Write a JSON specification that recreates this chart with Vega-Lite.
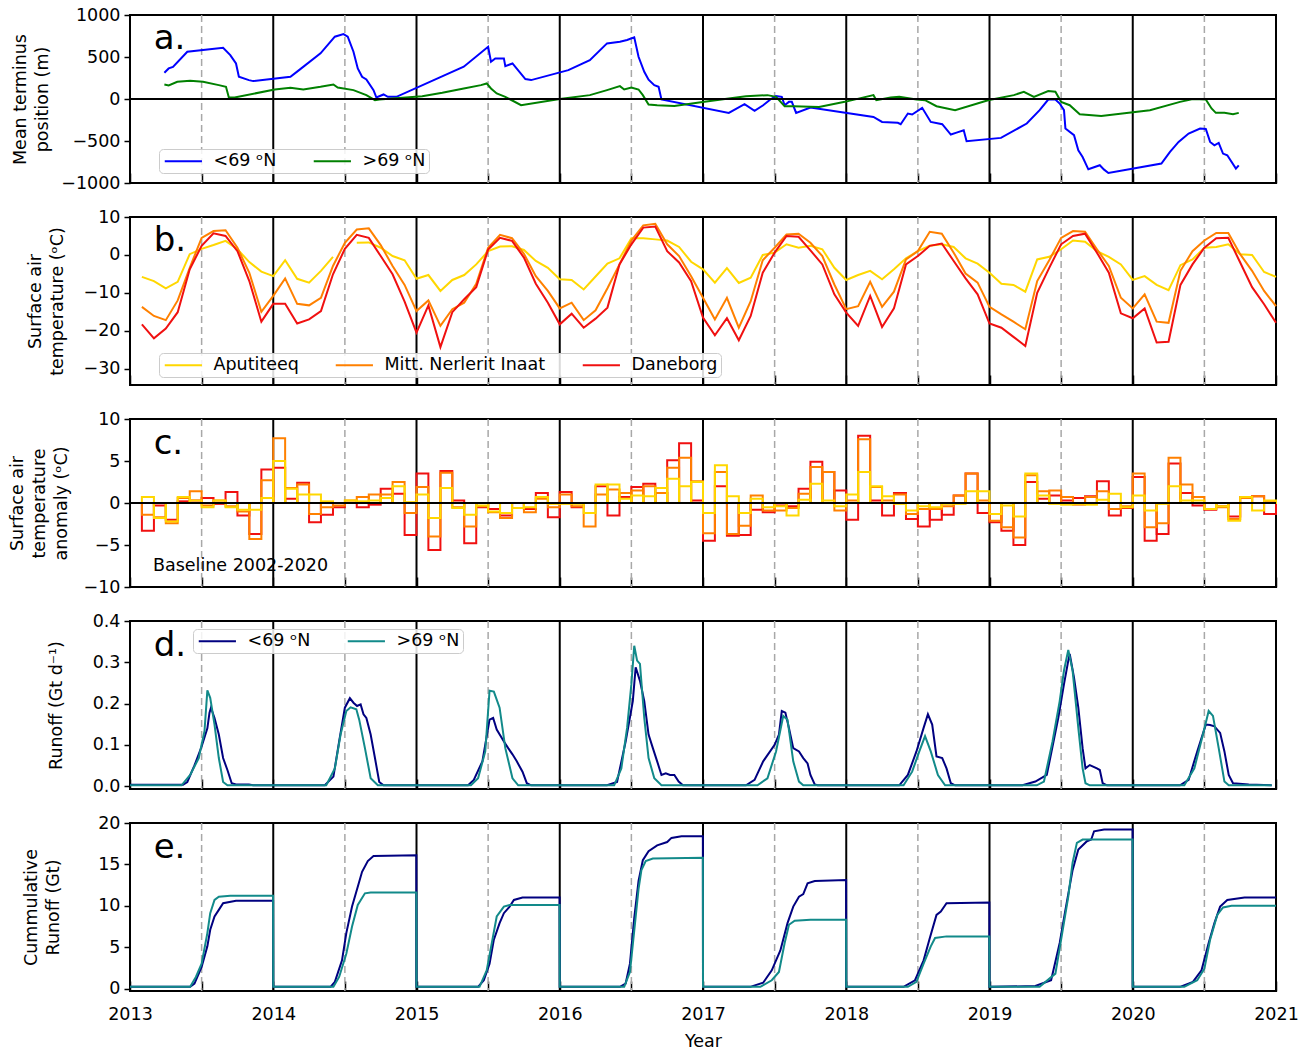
{
"$schema": "https://vega.github.io/schema/vega-lite/v6.json",
"background": "white",
"padding": {"left": 7, "top": 5, "right": 10, "bottom": 5},
"bounds": "flush",
"spacing": 34,
"config": {
  "font": "DejaVu Sans",
  "view": {"stroke": "black", "strokeWidth": 2},
  "axis": {"labelFont": "DejaVu Sans", "titleFont": "DejaVu Sans", "labelFontSize": 17.5, "titleFontSize": 17.5, "titleFontWeight": "normal", "labelColor": "black", "titleColor": "black", "domain": false, "grid": false, "tickColor": "black", "tickWidth": 1.5, "labelFlush": false, "labelOverlap": false},
  "axisY": {"tickSize": 6, "labelPadding": 4, "titlePadding": 8, "titleLineHeight": 22},
  "axisX": {"tickSize": -10, "labelPadding": 24, "titlePadding": 10},
  "legend": {"labelFont": "DejaVu Sans", "labelFontSize": 17.5, "labelColor": "black", "labelLimit": 400, "symbolType": "M-1,0H5.2", "symbolSize": 144, "symbolStrokeWidth": 2, "labelOffset": 34, "columnPadding": 32, "strokeColor": "#cccccc", "fillColor": "rgba(255,255,255,0.85)", "cornerRadius": 4, "padding": 3},
  "line": {"strokeWidth": 2}
},
"resolve": {"scale": {"color": "independent", "y": "independent", "x": "independent"}, "legend": {"color": "independent"}, "axis": {"x": "independent", "y": "independent"}},
"datasets": {
  "grid": [
    {"t": 2013.5, "k": "half"}, {"t": 2014.5, "k": "half"}, {"t": 2015.5, "k": "half"}, {"t": 2016.5, "k": "half"},
    {"t": 2017.5, "k": "half"}, {"t": 2018.5, "k": "half"}, {"t": 2019.5, "k": "half"}, {"t": 2020.5, "k": "half"},
    {"t": 2014, "k": "year"}, {"t": 2015, "k": "year"}, {"t": 2016, "k": "year"}, {"t": 2017, "k": "year"},
    {"t": 2018, "k": "year"}, {"t": 2019, "k": "year"}, {"t": 2020, "k": "year"}
  ],
  "zero": [{"y": 0}],
  "letters": [
    {"p": "a", "label": "a."}, {"p": "b", "label": "b."}, {"p": "c", "label": "c."}, {"p": "d", "label": "d."}, {"p": "e", "label": "e."},
    {"p": "base", "label": "Baseline 2002-2020"}
  ],
  "term": [
    {"t":2013.24,"s":"lo","v":312},{"t":2013.27,"s":"lo","v":364},{"t":2013.30,"s":"lo","v":383},{"t":2013.40,"s":"lo","v":563},{"t":2013.65,"s":"lo","v":610},{"t":2013.70,"s":"lo","v":523},{"t":2013.74,"s":"lo","v":423},{"t":2013.76,"s":"lo","v":264},{"t":2013.83,"s":"lo","v":225},{"t":2013.86,"s":"lo","v":213},
    {"t":2014.12,"s":"lo","v":264},{"t":2014.18,"s":"lo","v":344},{"t":2014.33,"s":"lo","v":543},{"t":2014.43,"s":"lo","v":742},{"t":2014.49,"s":"lo","v":773},{"t":2014.52,"s":"lo","v":742},{"t":2014.56,"s":"lo","v":563},{"t":2014.59,"s":"lo","v":364},{"t":2014.62,"s":"lo","v":264},{"t":2014.65,"s":"lo","v":233},{"t":2014.70,"s":"lo","v":106},{"t":2014.72,"s":"lo","v":18},{"t":2014.77,"s":"lo","v":54},{"t":2014.80,"s":"lo","v":26},{"t":2014.86,"s":"lo","v":26},
    {"t":2015.33,"s":"lo","v":384},{"t":2015.50,"s":"lo","v":622},{"t":2015.52,"s":"lo","v":443},{"t":2015.55,"s":"lo","v":483},{"t":2015.61,"s":"lo","v":483},{"t":2015.62,"s":"lo","v":392},{"t":2015.67,"s":"lo","v":423},{"t":2015.76,"s":"lo","v":237},{"t":2015.80,"s":"lo","v":225},
    {"t":2016.06,"s":"lo","v":344},{"t":2016.21,"s":"lo","v":463},{"t":2016.33,"s":"lo","v":662},{"t":2016.42,"s":"lo","v":682},{"t":2016.47,"s":"lo","v":702},{"t":2016.52,"s":"lo","v":734},{"t":2016.55,"s":"lo","v":503},{"t":2016.59,"s":"lo","v":324},{"t":2016.62,"s":"lo","v":230},{"t":2016.66,"s":"lo","v":165},{"t":2016.69,"s":"lo","v":145},{"t":2016.71,"s":"lo","v":-6},
    {"t":2017.18,"s":"lo","v":-165},{"t":2017.29,"s":"lo","v":-62},{"t":2017.36,"s":"lo","v":-141},{"t":2017.42,"s":"lo","v":-74},{"t":2017.47,"s":"lo","v":-6},{"t":2017.51,"s":"lo","v":34},{"t":2017.55,"s":"lo","v":26},{"t":2017.57,"s":"lo","v":-74},{"t":2017.60,"s":"lo","v":-34},{"t":2017.62,"s":"lo","v":-34},{"t":2017.65,"s":"lo","v":-165},{"t":2017.75,"s":"lo","v":-101},
    {"t":2018.19,"s":"lo","v":-213},{"t":2018.25,"s":"lo","v":-273},{"t":2018.36,"s":"lo","v":-284},{"t":2018.38,"s":"lo","v":-300},{"t":2018.43,"s":"lo","v":-173},{"t":2018.46,"s":"lo","v":-185},{"t":2018.53,"s":"lo","v":-105},{"t":2018.59,"s":"lo","v":-273},{"t":2018.67,"s":"lo","v":-300},{"t":2018.73,"s":"lo","v":-423},{"t":2018.77,"s":"lo","v":-400},{"t":2018.82,"s":"lo","v":-372},{"t":2018.84,"s":"lo","v":-503},
    {"t":2019.08,"s":"lo","v":-463},{"t":2019.26,"s":"lo","v":-292},{"t":2019.35,"s":"lo","v":-133},{"t":2019.41,"s":"lo","v":-6},{"t":2019.46,"s":"lo","v":-6},{"t":2019.49,"s":"lo","v":-54},{"t":2019.52,"s":"lo","v":-133},{"t":2019.53,"s":"lo","v":-352},{"t":2019.59,"s":"lo","v":-431},{"t":2019.62,"s":"lo","v":-610},{"t":2019.65,"s":"lo","v":-690},{"t":2019.69,"s":"lo","v":-837},{"t":2019.77,"s":"lo","v":-789},{"t":2019.80,"s":"lo","v":-841},{"t":2019.83,"s":"lo","v":-881},
    {"t":2020.20,"s":"lo","v":-769},{"t":2020.26,"s":"lo","v":-630},{"t":2020.32,"s":"lo","v":-511},{"t":2020.39,"s":"lo","v":-411},{"t":2020.47,"s":"lo","v":-352},{"t":2020.51,"s":"lo","v":-356},{"t":2020.54,"s":"lo","v":-511},{"t":2020.57,"s":"lo","v":-551},{"t":2020.60,"s":"lo","v":-523},{"t":2020.63,"s":"lo","v":-650},{"t":2020.66,"s":"lo","v":-670},{"t":2020.72,"s":"lo","v":-829},{"t":2020.74,"s":"lo","v":-789},
    {"t":2013.24,"s":"hi","v":173},{"t":2013.27,"s":"hi","v":161},{"t":2013.33,"s":"hi","v":205},{"t":2013.42,"s":"hi","v":217},{"t":2013.51,"s":"hi","v":205},{"t":2013.62,"s":"hi","v":165},{"t":2013.67,"s":"hi","v":145},{"t":2013.69,"s":"hi","v":18},{"t":2013.73,"s":"hi","v":18},
    {"t":2014.01,"s":"hi","v":113},{"t":2014.12,"s":"hi","v":133},{"t":2014.21,"s":"hi","v":113},{"t":2014.33,"s":"hi","v":145},{"t":2014.42,"s":"hi","v":173},{"t":2014.45,"s":"hi","v":137},{"t":2014.56,"s":"hi","v":106},{"t":2014.65,"s":"hi","v":46},{"t":2014.71,"s":"hi","v":-14},{"t":2014.74,"s":"hi","v":-6},
    {"t":2015.04,"s":"hi","v":34},{"t":2015.18,"s":"hi","v":74},{"t":2015.33,"s":"hi","v":125},{"t":2015.45,"s":"hi","v":165},{"t":2015.49,"s":"hi","v":185},{"t":2015.52,"s":"hi","v":125},{"t":2015.56,"s":"hi","v":66},{"t":2015.62,"s":"hi","v":26},{"t":2015.73,"s":"hi","v":-74},
    {"t":2016.00,"s":"hi","v":0},{"t":2016.21,"s":"hi","v":46},{"t":2016.33,"s":"hi","v":106},{"t":2016.42,"s":"hi","v":153},{"t":2016.45,"s":"hi","v":113},{"t":2016.50,"s":"hi","v":137},{"t":2016.55,"s":"hi","v":113},{"t":2016.58,"s":"hi","v":46},{"t":2016.62,"s":"hi","v":-66},{"t":2016.68,"s":"hi","v":-74},{"t":2016.80,"s":"hi","v":-82},
    {"t":2017.01,"s":"hi","v":-34},{"t":2017.18,"s":"hi","v":6},{"t":2017.30,"s":"hi","v":34},{"t":2017.45,"s":"hi","v":46},{"t":2017.51,"s":"hi","v":26},{"t":2017.57,"s":"hi","v":-86},{"t":2017.63,"s":"hi","v":-86},{"t":2017.81,"s":"hi","v":-94},{"t":2017.99,"s":"hi","v":-34},
    {"t":2018.19,"s":"hi","v":46},{"t":2018.21,"s":"hi","v":-14},{"t":2018.31,"s":"hi","v":18},{"t":2018.37,"s":"hi","v":26},{"t":2018.49,"s":"hi","v":-6},{"t":2018.55,"s":"hi","v":-14},{"t":2018.63,"s":"hi","v":-86},{"t":2018.76,"s":"hi","v":-133},{"t":2018.99,"s":"hi","v":-14},
    {"t":2019.17,"s":"hi","v":46},{"t":2019.24,"s":"hi","v":86},{"t":2019.31,"s":"hi","v":26},{"t":2019.41,"s":"hi","v":94},{"t":2019.46,"s":"hi","v":86},{"t":2019.50,"s":"hi","v":-34},{"t":2019.56,"s":"hi","v":-74},{"t":2019.63,"s":"hi","v":-181},{"t":2019.78,"s":"hi","v":-201},
    {"t":2020.12,"s":"hi","v":-133},{"t":2020.33,"s":"hi","v":-34},{"t":2020.42,"s":"hi","v":0},{"t":2020.51,"s":"hi","v":-6},{"t":2020.55,"s":"hi","v":-113},{"t":2020.58,"s":"hi","v":-165},{"t":2020.64,"s":"hi","v":-165},{"t":2020.70,"s":"hi","v":-181},{"t":2020.74,"s":"hi","v":-165}
  ],
  "temp": [
    {"t":2013.083,"s":"A","v":-5.8},{"t":2013.167,"s":"A","v":-6.9},{"t":2013.25,"s":"A","v":-8.8},{"t":2013.333,"s":"A","v":-7.1},{"t":2013.417,"s":"A","v":0.2},{"t":2013.5,"s":"A","v":1.6},{"t":2013.583,"s":"A","v":2.6},{"t":2013.667,"s":"A","v":3.7},{"t":2013.75,"s":"A","v":1.5},{"t":2013.833,"s":"A","v":-1.9},{"t":2013.917,"s":"A","v":-4.4},{"t":2014,"s":"A","v":-5.6},
    {"t":2014.083,"s":"A","v":-1.4},{"t":2014.167,"s":"A","v":-6.3},{"t":2014.25,"s":"A","v":-7.3},{"t":2014.333,"s":"A","v":-4.2},{"t":2014.417,"s":"A","v":-0.5},{"t":2014.5,"s":"A","v":null},{"t":2014.583,"s":"A","v":3.2},{"t":2014.667,"s":"A","v":3.3},{"t":2014.75,"s":"A","v":1.9},{"t":2014.833,"s":"A","v":-0.3},{"t":2014.917,"s":"A","v":-1.4},{"t":2015,"s":"A","v":-6.3},
    {"t":2015.083,"s":"A","v":-5.3},{"t":2015.167,"s":"A","v":-9.5},{"t":2015.25,"s":"A","v":-6.6},{"t":2015.333,"s":"A","v":-5.3},{"t":2015.417,"s":"A","v":-2.5},{"t":2015.5,"s":"A","v":1.0},{"t":2015.583,"s":"A","v":2.2},{"t":2015.667,"s":"A","v":2.3},{"t":2015.75,"s":"A","v":1.3},{"t":2015.833,"s":"A","v":-1.6},{"t":2015.917,"s":"A","v":-3.4},{"t":2016,"s":"A","v":-6.4},
    {"t":2016.083,"s":"A","v":-6.6},{"t":2016.167,"s":"A","v":-9.1},{"t":2016.25,"s":"A","v":-5.7},{"t":2016.333,"s":"A","v":-2.3},{"t":2016.417,"s":"A","v":-0.9},{"t":2016.5,"s":"A","v":4.4},{"t":2016.583,"s":"A","v":4.4},{"t":2016.667,"s":"A","v":4.1},{"t":2016.75,"s":"A","v":3.8},{"t":2016.833,"s":"A","v":2.1},{"t":2016.917,"s":"A","v":-1.8},{"t":2017,"s":"A","v":-3.8},
    {"t":2017.083,"s":"A","v":-7.3},{"t":2017.167,"s":"A","v":-3.5},{"t":2017.25,"s":"A","v":-7.4},{"t":2017.333,"s":"A","v":-6.0},{"t":2017.417,"s":"A","v":0.0},{"t":2017.5,"s":"A","v":0.6},{"t":2017.583,"s":"A","v":2.8},{"t":2017.667,"s":"A","v":1.9},{"t":2017.75,"s":"A","v":2.4},{"t":2017.833,"s":"A","v":1.5},{"t":2017.917,"s":"A","v":-3.4},{"t":2018,"s":"A","v":-6.6},
    {"t":2018.083,"s":"A","v":-5.3},{"t":2018.167,"s":"A","v":-4.2},{"t":2018.25,"s":"A","v":-6.4},{"t":2018.333,"s":"A","v":-3.8},{"t":2018.417,"s":"A","v":-0.9},{"t":2018.5,"s":"A","v":1.0},{"t":2018.583,"s":"A","v":2.4},{"t":2018.667,"s":"A","v":2.8},{"t":2018.75,"s":"A","v":2.1},{"t":2018.833,"s":"A","v":-0.9},{"t":2018.917,"s":"A","v":-2.3},{"t":2019,"s":"A","v":-4.7},
    {"t":2019.083,"s":"A","v":-7.6},{"t":2019.167,"s":"A","v":-7.9},{"t":2019.25,"s":"A","v":-9.7},{"t":2019.333,"s":"A","v":-1.2},{"t":2019.417,"s":"A","v":-0.5},{"t":2019.5,"s":"A","v":1.5},{"t":2019.583,"s":"A","v":3.8},{"t":2019.667,"s":"A","v":3.5},{"t":2019.75,"s":"A","v":1.0},{"t":2019.833,"s":"A","v":-0.5},{"t":2019.917,"s":"A","v":-2.5},{"t":2020,"s":"A","v":-6.6},
    {"t":2020.083,"s":"A","v":-5.6},{"t":2020.167,"s":"A","v":-7.9},{"t":2020.25,"s":"A","v":-9.3},{"t":2020.333,"s":"A","v":-2.7},{"t":2020.417,"s":"A","v":-1.2},{"t":2020.5,"s":"A","v":1.9},{"t":2020.583,"s":"A","v":2.1},{"t":2020.667,"s":"A","v":2.8},{"t":2020.75,"s":"A","v":0.2},{"t":2020.833,"s":"A","v":0.0},{"t":2020.917,"s":"A","v":-4.5},{"t":2021,"s":"A","v":-5.8},
    {"t":2013.083,"s":"M","v":-13.7},{"t":2013.167,"s":"M","v":-16.1},{"t":2013.25,"s":"M","v":-17.2},{"t":2013.333,"s":"M","v":-12.0},{"t":2013.417,"s":"M","v":-3.4},{"t":2013.5,"s":"M","v":4.5},{"t":2013.583,"s":"M","v":6.3},{"t":2013.667,"s":"M","v":6.5},{"t":2013.75,"s":"M","v":1.9},{"t":2013.833,"s":"M","v":-4.7},{"t":2013.917,"s":"M","v":-15.0},{"t":2014,"s":"M","v":-10.8},
    {"t":2014.083,"s":"M","v":-6.2},{"t":2014.167,"s":"M","v":-12.9},{"t":2014.25,"s":"M","v":-13.3},{"t":2014.333,"s":"M","v":-11.3},{"t":2014.417,"s":"M","v":-2.9},{"t":2014.5,"s":"M","v":3.2},{"t":2014.583,"s":"M","v":6.7},{"t":2014.667,"s":"M","v":7.0},{"t":2014.75,"s":"M","v":2.6},{"t":2014.833,"s":"M","v":-2.9},{"t":2014.917,"s":"M","v":-7.9},{"t":2015,"s":"M","v":-14.8},
    {"t":2015.083,"s":"M","v":-12.0},{"t":2015.167,"s":"M","v":-18.7},{"t":2015.25,"s":"M","v":-14.3},{"t":2015.333,"s":"M","v":-12.6},{"t":2015.417,"s":"M","v":-7.6},{"t":2015.5,"s":"M","v":1.9},{"t":2015.583,"s":"M","v":5.3},{"t":2015.667,"s":"M","v":4.4},{"t":2015.75,"s":"M","v":0.3},{"t":2015.833,"s":"M","v":-5.6},{"t":2015.917,"s":"M","v":-9.5},{"t":2016,"s":"M","v":-14.1},
    {"t":2016.083,"s":"M","v":-12.6},{"t":2016.167,"s":"M","v":-17.2},{"t":2016.25,"s":"M","v":-14.6},{"t":2016.333,"s":"M","v":-8.8},{"t":2016.417,"s":"M","v":-2.5},{"t":2016.5,"s":"M","v":3.8},{"t":2016.583,"s":"M","v":7.8},{"t":2016.667,"s":"M","v":8.2},{"t":2016.75,"s":"M","v":2.8},{"t":2016.833,"s":"M","v":-0.3},{"t":2016.917,"s":"M","v":-5.6},{"t":2017,"s":"M","v":-11.3},
    {"t":2017.083,"s":"M","v":-17.0},{"t":2017.167,"s":"M","v":-11.3},{"t":2017.25,"s":"M","v":-19.2},{"t":2017.333,"s":"M","v":-12.2},{"t":2017.417,"s":"M","v":-1.4},{"t":2017.5,"s":"M","v":1.9},{"t":2017.583,"s":"M","v":5.4},{"t":2017.667,"s":"M","v":5.6},{"t":2017.75,"s":"M","v":3.2},{"t":2017.833,"s":"M","v":-0.3},{"t":2017.917,"s":"M","v":-7.8},{"t":2018,"s":"M","v":-14.3},
    {"t":2018.083,"s":"M","v":-13.5},{"t":2018.167,"s":"M","v":-7.1},{"t":2018.25,"s":"M","v":-13.7},{"t":2018.333,"s":"M","v":-9.7},{"t":2018.417,"s":"M","v":-1.2},{"t":2018.5,"s":"M","v":1.0},{"t":2018.583,"s":"M","v":6.1},{"t":2018.667,"s":"M","v":5.6},{"t":2018.75,"s":"M","v":0.6},{"t":2018.833,"s":"M","v":-4.9},{"t":2018.917,"s":"M","v":-7.3},{"t":2019,"s":"M","v":-13.7},
    {"t":2019.083,"s":"M","v":-15.7},{"t":2019.167,"s":"M","v":-17.6},{"t":2019.25,"s":"M","v":-19.6},{"t":2019.333,"s":"M","v":-6.9},{"t":2019.417,"s":"M","v":-1.4},{"t":2019.5,"s":"M","v":4.5},{"t":2019.583,"s":"M","v":6.3},{"t":2019.667,"s":"M","v":6.1},{"t":2019.75,"s":"M","v":1.5},{"t":2019.833,"s":"M","v":-2.9},{"t":2019.917,"s":"M","v":-11.3},{"t":2020,"s":"M","v":-14.1},
    {"t":2020.083,"s":"M","v":-10.4},{"t":2020.167,"s":"M","v":-17.6},{"t":2020.25,"s":"M","v":-17.9},{"t":2020.333,"s":"M","v":-4.2},{"t":2020.417,"s":"M","v":1.0},{"t":2020.5,"s":"M","v":3.8},{"t":2020.583,"s":"M","v":5.8},{"t":2020.667,"s":"M","v":5.8},{"t":2020.75,"s":"M","v":0.2},{"t":2020.833,"s":"M","v":-4.2},{"t":2020.917,"s":"M","v":-9.5},{"t":2021,"s":"M","v":-13.5},
    {"t":2013.083,"s":"D","v":-18.3},{"t":2013.167,"s":"D","v":-22.0},{"t":2013.25,"s":"D","v":-19.4},{"t":2013.333,"s":"D","v":-15.1},{"t":2013.417,"s":"D","v":-3.8},{"t":2013.5,"s":"D","v":2.4},{"t":2013.583,"s":"D","v":5.7},{"t":2013.667,"s":"D","v":5.0},{"t":2013.75,"s":"D","v":1.0},{"t":2013.833,"s":"D","v":-6.9},{"t":2013.917,"s":"D","v":-17.6},{"t":2014,"s":"D","v":-12.9},
    {"t":2014.083,"s":"D","v":-12.9},{"t":2014.167,"s":"D","v":-18.1},{"t":2014.25,"s":"D","v":-17.0},{"t":2014.333,"s":"D","v":-14.8},{"t":2014.417,"s":"D","v":-5.1},{"t":2014.5,"s":"D","v":1.6},{"t":2014.583,"s":"D","v":5.3},{"t":2014.667,"s":"D","v":4.5},{"t":2014.75,"s":"D","v":-0.3},{"t":2014.833,"s":"D","v":-5.1},{"t":2014.917,"s":"D","v":-12.3},{"t":2015,"s":"D","v":-20.5},
    {"t":2015.083,"s":"D","v":-13.3},{"t":2015.167,"s":"D","v":-24.3},{"t":2015.25,"s":"D","v":-15.1},{"t":2015.333,"s":"D","v":-11.7},{"t":2015.417,"s":"D","v":-8.5},{"t":2015.5,"s":"D","v":1.4},{"t":2015.583,"s":"D","v":4.5},{"t":2015.667,"s":"D","v":3.7},{"t":2015.75,"s":"D","v":-0.7},{"t":2015.833,"s":"D","v":-7.6},{"t":2015.917,"s":"D","v":-12.6},{"t":2016,"s":"D","v":-18.3},
    {"t":2016.083,"s":"D","v":-15.5},{"t":2016.167,"s":"D","v":-19.2},{"t":2016.25,"s":"D","v":-16.8},{"t":2016.333,"s":"D","v":-13.9},{"t":2016.417,"s":"D","v":-2.5},{"t":2016.5,"s":"D","v":2.8},{"t":2016.583,"s":"D","v":7.2},{"t":2016.667,"s":"D","v":7.5},{"t":2016.75,"s":"D","v":1.0},{"t":2016.833,"s":"D","v":-2.0},{"t":2016.917,"s":"D","v":-6.9},{"t":2017,"s":"D","v":-16.5},
    {"t":2017.083,"s":"D","v":-21.2},{"t":2017.167,"s":"D","v":-16.7},{"t":2017.25,"s":"D","v":-22.5},{"t":2017.333,"s":"D","v":-16.1},{"t":2017.417,"s":"D","v":-4.7},{"t":2017.5,"s":"D","v":0.6},{"t":2017.583,"s":"D","v":5.0},{"t":2017.667,"s":"D","v":4.8},{"t":2017.75,"s":"D","v":1.2},{"t":2017.833,"s":"D","v":-2.5},{"t":2017.917,"s":"D","v":-10.4},{"t":2018,"s":"D","v":-15.2},
    {"t":2018.083,"s":"D","v":-18.7},{"t":2018.167,"s":"D","v":-10.8},{"t":2018.25,"s":"D","v":-19.0},{"t":2018.333,"s":"D","v":-14.1},{"t":2018.417,"s":"D","v":-2.5},{"t":2018.5,"s":"D","v":-0.3},{"t":2018.583,"s":"D","v":2.4},{"t":2018.667,"s":"D","v":3.0},{"t":2018.75,"s":"D","v":-1.6},{"t":2018.833,"s":"D","v":-6.2},{"t":2018.917,"s":"D","v":-10.4},{"t":2019,"s":"D","v":-18.1},
    {"t":2019.083,"s":"D","v":-19.2},{"t":2019.167,"s":"D","v":-21.6},{"t":2019.25,"s":"D","v":-24.0},{"t":2019.333,"s":"D","v":-10.0},{"t":2019.417,"s":"D","v":-3.4},{"t":2019.5,"s":"D","v":2.8},{"t":2019.583,"s":"D","v":5.0},{"t":2019.667,"s":"D","v":5.6},{"t":2019.75,"s":"D","v":0.6},{"t":2019.833,"s":"D","v":-4.7},{"t":2019.917,"s":"D","v":-15.4},{"t":2020,"s":"D","v":-16.7},
    {"t":2020.083,"s":"D","v":-14.1},{"t":2020.167,"s":"D","v":-23.1},{"t":2020.25,"s":"D","v":-22.9},{"t":2020.333,"s":"D","v":-7.9},{"t":2020.417,"s":"D","v":-2.5},{"t":2020.5,"s":"D","v":1.9},{"t":2020.583,"s":"D","v":4.4},{"t":2020.667,"s":"D","v":4.5},{"t":2020.75,"s":"D","v":-2.0},{"t":2020.833,"s":"D","v":-8.5},{"t":2020.917,"s":"D","v":-13.0},{"t":2021,"s":"D","v":-17.9}
  ],
  "anom": [
    {"t0":2013.083,"t1":2013.167,"s":"D","v":-3.3},{"t0":2013.167,"t1":2013.25,"s":"D","v":-0.3},{"t0":2013.25,"t1":2013.333,"s":"D","v":-2.0},{"t0":2013.333,"t1":2013.417,"s":"D","v":0.2},{"t0":2013.417,"t1":2013.5,"s":"D","v":0.3},{"t0":2013.5,"t1":2013.583,"s":"D","v":0.6},{"t0":2013.583,"t1":2013.667,"s":"D","v":-0.1},{"t0":2013.667,"t1":2013.75,"s":"D","v":1.3},{"t0":2013.75,"t1":2013.833,"s":"D","v":-1.5},{"t0":2013.833,"t1":2013.917,"s":"D","v":-3.7},{"t0":2013.917,"t1":2014,"s":"D","v":4.0},
    {"t0":2014,"t1":2014.083,"s":"D","v":4.2},{"t0":2014.083,"t1":2014.167,"s":"D","v":0.5},{"t0":2014.167,"t1":2014.25,"s":"D","v":2.4},{"t0":2014.25,"t1":2014.333,"s":"D","v":-2.3},{"t0":2014.333,"t1":2014.417,"s":"D","v":-1.4},{"t0":2014.417,"t1":2014.5,"s":"D","v":-0.5},{"t0":2014.5,"t1":2014.583,"s":"D","v":0.0},{"t0":2014.583,"t1":2014.667,"s":"D","v":-0.5},{"t0":2014.667,"t1":2014.75,"s":"D","v":-0.2},{"t0":2014.75,"t1":2014.833,"s":"D","v":1.7},{"t0":2014.833,"t1":2014.917,"s":"D","v":1.1},{"t0":2014.917,"t1":2015,"s":"D","v":-3.8},
    {"t0":2015,"t1":2015.083,"s":"D","v":3.5},{"t0":2015.083,"t1":2015.167,"s":"D","v":-5.6},{"t0":2015.167,"t1":2015.25,"s":"D","v":3.8},{"t0":2015.25,"t1":2015.333,"s":"D","v":0.3},{"t0":2015.333,"t1":2015.417,"s":"D","v":-4.8},{"t0":2015.417,"t1":2015.5,"s":"D","v":-0.5},{"t0":2015.5,"t1":2015.583,"s":"D","v":-0.7},{"t0":2015.583,"t1":2015.667,"s":"D","v":-1.5},{"t0":2015.667,"t1":2015.75,"s":"D","v":-0.6},{"t0":2015.75,"t1":2015.833,"s":"D","v":-0.7},{"t0":2015.833,"t1":2015.917,"s":"D","v":1.2},{"t0":2015.917,"t1":2016,"s":"D","v":-1.7},
    {"t0":2016,"t1":2016.083,"s":"D","v":1.3},{"t0":2016.083,"t1":2016.167,"s":"D","v":-0.5},{"t0":2016.167,"t1":2016.25,"s":"D","v":0.0},{"t0":2016.25,"t1":2016.333,"s":"D","v":2.0},{"t0":2016.333,"t1":2016.417,"s":"D","v":-1.5},{"t0":2016.417,"t1":2016.5,"s":"D","v":0.7},{"t0":2016.5,"t1":2016.583,"s":"D","v":1.9},{"t0":2016.583,"t1":2016.667,"s":"D","v":2.3},{"t0":2016.667,"t1":2016.75,"s":"D","v":1.2},{"t0":2016.75,"t1":2016.833,"s":"D","v":5.1},{"t0":2016.833,"t1":2016.917,"s":"D","v":7.1},{"t0":2016.917,"t1":2017,"s":"D","v":0.3},
    {"t0":2017,"t1":2017.083,"s":"D","v":-4.5},{"t0":2017.083,"t1":2017.167,"s":"D","v":2.0},{"t0":2017.167,"t1":2017.25,"s":"D","v":-3.9},{"t0":2017.25,"t1":2017.333,"s":"D","v":-3.8},{"t0":2017.333,"t1":2017.417,"s":"D","v":-0.8},{"t0":2017.417,"t1":2017.5,"s":"D","v":-1.1},{"t0":2017.5,"t1":2017.583,"s":"D","v":-0.3},{"t0":2017.583,"t1":2017.667,"s":"D","v":-0.4},{"t0":2017.667,"t1":2017.75,"s":"D","v":1.7},{"t0":2017.75,"t1":2017.833,"s":"D","v":4.9},{"t0":2017.833,"t1":2017.917,"s":"D","v":3.7},{"t0":2017.917,"t1":2018,"s":"D","v":1.5},
    {"t0":2018,"t1":2018.083,"s":"D","v":-2.0},{"t0":2018.083,"t1":2018.167,"s":"D","v":8.0},{"t0":2018.167,"t1":2018.25,"s":"D","v":0.3},{"t0":2018.25,"t1":2018.333,"s":"D","v":-1.5},{"t0":2018.333,"t1":2018.417,"s":"D","v":1.2},{"t0":2018.417,"t1":2018.5,"s":"D","v":-1.9},{"t0":2018.5,"t1":2018.583,"s":"D","v":-2.8},{"t0":2018.583,"t1":2018.667,"s":"D","v":-2.0},{"t0":2018.667,"t1":2018.75,"s":"D","v":-1.4},{"t0":2018.75,"t1":2018.833,"s":"D","v":0.9},{"t0":2018.833,"t1":2018.917,"s":"D","v":3.5},{"t0":2018.917,"t1":2019,"s":"D","v":-1.2},
    {"t0":2019,"t1":2019.083,"s":"D","v":-2.3},{"t0":2019.083,"t1":2019.167,"s":"D","v":-3.3},{"t0":2019.167,"t1":2019.25,"s":"D","v":-5.0},{"t0":2019.25,"t1":2019.333,"s":"D","v":2.5},{"t0":2019.333,"t1":2019.417,"s":"D","v":0.5},{"t0":2019.417,"t1":2019.5,"s":"D","v":0.9},{"t0":2019.5,"t1":2019.583,"s":"D","v":0.3},{"t0":2019.583,"t1":2019.667,"s":"D","v":0.6},{"t0":2019.667,"t1":2019.75,"s":"D","v":0.8},{"t0":2019.75,"t1":2019.833,"s":"D","v":2.6},{"t0":2019.833,"t1":2019.917,"s":"D","v":-1.5},{"t0":2019.917,"t1":2020,"s":"D","v":-0.6},
    {"t0":2020,"t1":2020.083,"s":"D","v":3.1},{"t0":2020.083,"t1":2020.167,"s":"D","v":-4.5},{"t0":2020.167,"t1":2020.25,"s":"D","v":-3.7},{"t0":2020.25,"t1":2020.333,"s":"D","v":4.7},{"t0":2020.333,"t1":2020.417,"s":"D","v":1.2},{"t0":2020.417,"t1":2020.5,"s":"D","v":-0.3},{"t0":2020.5,"t1":2020.583,"s":"D","v":-0.8},{"t0":2020.583,"t1":2020.667,"s":"D","v":-0.4},{"t0":2020.667,"t1":2020.75,"s":"D","v":-1.6},{"t0":2020.75,"t1":2020.833,"s":"D","v":0.7},{"t0":2020.833,"t1":2020.917,"s":"D","v":0.8},{"t0":2020.917,"t1":2021,"s":"D","v":-1.3},
    {"t0":2013.083,"t1":2013.167,"s":"M","v":-1.4},{"t0":2013.167,"t1":2013.25,"s":"M","v":-1.7},{"t0":2013.25,"t1":2013.333,"s":"M","v":-2.4},{"t0":2013.333,"t1":2013.417,"s":"M","v":0.6},{"t0":2013.417,"t1":2013.5,"s":"M","v":1.4},{"t0":2013.5,"t1":2013.583,"s":"M","v":-0.3},{"t0":2013.583,"t1":2013.667,"s":"M","v":0.3},{"t0":2013.667,"t1":2013.75,"s":"M","v":-0.4},{"t0":2013.75,"t1":2013.833,"s":"M","v":-1.0},{"t0":2013.833,"t1":2013.917,"s":"M","v":-4.3},{"t0":2013.917,"t1":2014,"s":"M","v":2.7},
    {"t0":2014,"t1":2014.083,"s":"M","v":7.7},{"t0":2014.083,"t1":2014.167,"s":"M","v":1.8},{"t0":2014.167,"t1":2014.25,"s":"M","v":2.2},{"t0":2014.25,"t1":2014.333,"s":"M","v":-1.3},{"t0":2014.333,"t1":2014.417,"s":"M","v":-0.5},{"t0":2014.417,"t1":2014.5,"s":"M","v":-0.3},{"t0":2014.5,"t1":2014.583,"s":"M","v":0.3},{"t0":2014.583,"t1":2014.667,"s":"M","v":0.7},{"t0":2014.667,"t1":2014.75,"s":"M","v":1.0},{"t0":2014.75,"t1":2014.833,"s":"M","v":1.0},{"t0":2014.833,"t1":2014.917,"s":"M","v":2.5},{"t0":2014.917,"t1":2015,"s":"M","v":-1.2},
    {"t0":2015,"t1":2015.083,"s":"M","v":1.9},{"t0":2015.083,"t1":2015.167,"s":"M","v":-4.0},{"t0":2015.167,"t1":2015.25,"s":"M","v":3.6},{"t0":2015.25,"t1":2015.333,"s":"M","v":-0.5},{"t0":2015.333,"t1":2015.417,"s":"M","v":-2.8},{"t0":2015.417,"t1":2015.5,"s":"M","v":-0.4},{"t0":2015.5,"t1":2015.583,"s":"M","v":-1.1},{"t0":2015.583,"t1":2015.667,"s":"M","v":-1.8},{"t0":2015.667,"t1":2015.75,"s":"M","v":-0.6},{"t0":2015.75,"t1":2015.833,"s":"M","v":-1.1},{"t0":2015.833,"t1":2015.917,"s":"M","v":0.5},{"t0":2015.917,"t1":2016,"s":"M","v":-0.5},
    {"t0":2016,"t1":2016.083,"s":"M","v":1.0},{"t0":2016.083,"t1":2016.167,"s":"M","v":-0.4},{"t0":2016.167,"t1":2016.25,"s":"M","v":-2.8},{"t0":2016.25,"t1":2016.333,"s":"M","v":1.0},{"t0":2016.333,"t1":2016.417,"s":"M","v":1.6},{"t0":2016.417,"t1":2016.5,"s":"M","v":1.2},{"t0":2016.5,"t1":2016.583,"s":"M","v":1.5},{"t0":2016.583,"t1":2016.667,"s":"M","v":2.0},{"t0":2016.667,"t1":2016.75,"s":"M","v":1.2},{"t0":2016.75,"t1":2016.833,"s":"M","v":4.2},{"t0":2016.833,"t1":2016.917,"s":"M","v":5.4},{"t0":2016.917,"t1":2017,"s":"M","v":2.6},
    {"t0":2017,"t1":2017.083,"s":"M","v":-3.6},{"t0":2017.083,"t1":2017.167,"s":"M","v":3.7},{"t0":2017.167,"t1":2017.25,"s":"M","v":-3.7},{"t0":2017.25,"t1":2017.333,"s":"M","v":-2.7},{"t0":2017.333,"t1":2017.417,"s":"M","v":0.9},{"t0":2017.417,"t1":2017.5,"s":"M","v":-0.9},{"t0":2017.5,"t1":2017.583,"s":"M","v":-0.9},{"t0":2017.583,"t1":2017.667,"s":"M","v":-0.6},{"t0":2017.667,"t1":2017.75,"s":"M","v":1.1},{"t0":2017.75,"t1":2017.833,"s":"M","v":4.3},{"t0":2017.833,"t1":2017.917,"s":"M","v":3.7},{"t0":2017.917,"t1":2018,"s":"M","v":-0.9},
    {"t0":2018,"t1":2018.083,"s":"M","v":0.3},{"t0":2018.083,"t1":2018.167,"s":"M","v":7.6},{"t0":2018.167,"t1":2018.25,"s":"M","v":1.9},{"t0":2018.25,"t1":2018.333,"s":"M","v":0.3},{"t0":2018.333,"t1":2018.417,"s":"M","v":1.0},{"t0":2018.417,"t1":2018.5,"s":"M","v":-1.3},{"t0":2018.5,"t1":2018.583,"s":"M","v":-0.7},{"t0":2018.583,"t1":2018.667,"s":"M","v":-0.7},{"t0":2018.667,"t1":2018.75,"s":"M","v":-0.4},{"t0":2018.75,"t1":2018.833,"s":"M","v":0.9},{"t0":2018.833,"t1":2018.917,"s":"M","v":3.5},{"t0":2018.917,"t1":2019,"s":"M","v":0.3},
    {"t0":2019,"t1":2019.083,"s":"M","v":-2.1},{"t0":2019.083,"t1":2019.167,"s":"M","v":-2.9},{"t0":2019.167,"t1":2019.25,"s":"M","v":-4.1},{"t0":2019.25,"t1":2019.333,"s":"M","v":3.3},{"t0":2019.333,"t1":2019.417,"s":"M","v":1.4},{"t0":2019.417,"t1":2019.5,"s":"M","v":1.5},{"t0":2019.5,"t1":2019.583,"s":"M","v":0.7},{"t0":2019.583,"t1":2019.667,"s":"M","v":-0.2},{"t0":2019.667,"t1":2019.75,"s":"M","v":0.7},{"t0":2019.75,"t1":2019.833,"s":"M","v":1.4},{"t0":2019.833,"t1":2019.917,"s":"M","v":-0.7},{"t0":2019.917,"t1":2020,"s":"M","v":-0.4},
    {"t0":2020,"t1":2020.083,"s":"M","v":3.5},{"t0":2020.083,"t1":2020.167,"s":"M","v":-2.9},{"t0":2020.167,"t1":2020.25,"s":"M","v":-2.4},{"t0":2020.25,"t1":2020.333,"s":"M","v":5.4},{"t0":2020.333,"t1":2020.417,"s":"M","v":2.2},{"t0":2020.417,"t1":2020.5,"s":"M","v":0.7},{"t0":2020.5,"t1":2020.583,"s":"M","v":-0.7},{"t0":2020.583,"t1":2020.667,"s":"M","v":-0.5},{"t0":2020.667,"t1":2020.75,"s":"M","v":-1.9},{"t0":2020.75,"t1":2020.833,"s":"M","v":0.6},{"t0":2020.833,"t1":2020.917,"s":"M","v":0.8},{"t0":2020.917,"t1":2021,"s":"M","v":0.1},
    {"t0":2013.083,"t1":2013.167,"s":"A","v":0.7},{"t0":2013.167,"t1":2013.25,"s":"A","v":-1.8},{"t0":2013.25,"t1":2013.333,"s":"A","v":-2.2},{"t0":2013.333,"t1":2013.417,"s":"A","v":0.7},{"t0":2013.417,"t1":2013.5,"s":"A","v":0.3},{"t0":2013.5,"t1":2013.583,"s":"A","v":-0.5},{"t0":2013.583,"t1":2013.667,"s":"A","v":0.3},{"t0":2013.667,"t1":2013.75,"s":"A","v":-0.5},{"t0":2013.75,"t1":2013.833,"s":"A","v":-0.8},{"t0":2013.833,"t1":2013.917,"s":"A","v":-0.8},{"t0":2013.917,"t1":2014,"s":"A","v":0.6},
    {"t0":2014,"t1":2014.083,"s":"A","v":5.0},{"t0":2014.083,"t1":2014.167,"s":"A","v":1.7},{"t0":2014.167,"t1":2014.25,"s":"A","v":1.0},{"t0":2014.25,"t1":2014.333,"s":"A","v":1.0},{"t0":2014.333,"t1":2014.417,"s":"A","v":0.2},{"t0":2014.417,"t1":2014.5,"s":"A","v":0.0},{"t0":2014.5,"t1":2014.583,"s":"A","v":0.3},{"t0":2014.583,"t1":2014.667,"s":"A","v":0.2},{"t0":2014.667,"t1":2014.75,"s":"A","v":0.3},{"t0":2014.75,"t1":2014.833,"s":"A","v":0.6},{"t0":2014.833,"t1":2014.917,"s":"A","v":2.0},{"t0":2014.917,"t1":2015,"s":"A","v":0.1},
    {"t0":2015,"t1":2015.083,"s":"A","v":1.0},{"t0":2015.083,"t1":2015.167,"s":"A","v":-1.8},{"t0":2015.167,"t1":2015.25,"s":"A","v":1.8},{"t0":2015.25,"t1":2015.333,"s":"A","v":-0.6},{"t0":2015.333,"t1":2015.417,"s":"A","v":-1.4},{"t0":2015.417,"t1":2015.5,"s":"A","v":-0.3},{"t0":2015.5,"t1":2015.583,"s":"A","v":-1.0},{"t0":2015.583,"t1":2015.667,"s":"A","v":-1.2},{"t0":2015.667,"t1":2015.75,"s":"A","v":-0.6},{"t0":2015.75,"t1":2015.833,"s":"A","v":-0.5},{"t0":2015.833,"t1":2015.917,"s":"A","v":0.7},{"t0":2015.917,"t1":2016,"s":"A","v":-0.1},
    {"t0":2016,"t1":2016.083,"s":"A","v":-0.1},{"t0":2016.083,"t1":2016.167,"s":"A","v":-0.1},{"t0":2016.167,"t1":2016.25,"s":"A","v":-1.2},{"t0":2016.25,"t1":2016.333,"s":"A","v":2.2},{"t0":2016.333,"t1":2016.417,"s":"A","v":2.2},{"t0":2016.417,"t1":2016.5,"s":"A","v":0.5},{"t0":2016.5,"t1":2016.583,"s":"A","v":0.9},{"t0":2016.583,"t1":2016.667,"s":"A","v":0.8},{"t0":2016.667,"t1":2016.75,"s":"A","v":1.8},{"t0":2016.75,"t1":2016.833,"s":"A","v":2.9},{"t0":2016.833,"t1":2016.917,"s":"A","v":2.0},{"t0":2016.917,"t1":2017,"s":"A","v":2.5},
    {"t0":2017,"t1":2017.083,"s":"A","v":-1.2},{"t0":2017.083,"t1":2017.167,"s":"A","v":4.5},{"t0":2017.167,"t1":2017.25,"s":"A","v":0.8},{"t0":2017.25,"t1":2017.333,"s":"A","v":-1.2},{"t0":2017.333,"t1":2017.417,"s":"A","v":0.5},{"t0":2017.417,"t1":2017.5,"s":"A","v":-0.5},{"t0":2017.5,"t1":2017.583,"s":"A","v":-0.4},{"t0":2017.583,"t1":2017.667,"s":"A","v":-1.5},{"t0":2017.667,"t1":2017.75,"s":"A","v":0.4},{"t0":2017.75,"t1":2017.833,"s":"A","v":2.3},{"t0":2017.833,"t1":2017.917,"s":"A","v":0.3},{"t0":2017.917,"t1":2018,"s":"A","v":-0.4},
    {"t0":2018,"t1":2018.083,"s":"A","v":1.0},{"t0":2018.083,"t1":2018.167,"s":"A","v":3.7},{"t0":2018.167,"t1":2018.25,"s":"A","v":2.0},{"t0":2018.25,"t1":2018.333,"s":"A","v":0.8},{"t0":2018.333,"t1":2018.417,"s":"A","v":-0.1},{"t0":2018.417,"t1":2018.5,"s":"A","v":-0.9},{"t0":2018.5,"t1":2018.583,"s":"A","v":-0.4},{"t0":2018.583,"t1":2018.667,"s":"A","v":-0.5},{"t0":2018.667,"t1":2018.75,"s":"A","v":-0.1},{"t0":2018.75,"t1":2018.833,"s":"A","v":-0.1},{"t0":2018.833,"t1":2018.917,"s":"A","v":1.4},{"t0":2018.917,"t1":2019,"s":"A","v":1.4},
    {"t0":2019,"t1":2019.083,"s":"A","v":-1.3},{"t0":2019.083,"t1":2019.167,"s":"A","v":-0.3},{"t0":2019.167,"t1":2019.25,"s":"A","v":-1.6},{"t0":2019.25,"t1":2019.333,"s":"A","v":3.5},{"t0":2019.333,"t1":2019.417,"s":"A","v":0.9},{"t0":2019.417,"t1":2019.5,"s":"A","v":-0.1},{"t0":2019.5,"t1":2019.583,"s":"A","v":-0.2},{"t0":2019.583,"t1":2019.667,"s":"A","v":-0.1},{"t0":2019.667,"t1":2019.75,"s":"A","v":-0.2},{"t0":2019.75,"t1":2019.833,"s":"A","v":0.4},{"t0":2019.833,"t1":2019.917,"s":"A","v":1.1},{"t0":2019.917,"t1":2020,"s":"A","v":-0.5},
    {"t0":2020,"t1":2020.083,"s":"A","v":0.9},{"t0":2020.083,"t1":2020.167,"s":"A","v":-0.9},{"t0":2020.167,"t1":2020.25,"s":"A","v":-0.1},{"t0":2020.25,"t1":2020.333,"s":"A","v":2.0},{"t0":2020.333,"t1":2020.417,"s":"A","v":0.3},{"t0":2020.417,"t1":2020.5,"s":"A","v":0.3},{"t0":2020.5,"t1":2020.583,"s":"A","v":-0.7},{"t0":2020.583,"t1":2020.667,"s":"A","v":-0.4},{"t0":2020.667,"t1":2020.75,"s":"A","v":-2.1},{"t0":2020.75,"t1":2020.833,"s":"A","v":0.7},{"t0":2020.833,"t1":2020.917,"s":"A","v":-0.9},{"t0":2020.917,"t1":2021,"s":"A","v":0.3}
  ],
  "runoff": [
    {"t":2013.0,"s":"lo","v":0.003},{"t":2013.37,"s":"lo","v":0.003},{"t":2013.40,"s":"lo","v":0.01},{"t":2013.45,"s":"lo","v":0.05},{"t":2013.50,"s":"lo","v":0.096},{"t":2013.54,"s":"lo","v":0.14},{"t":2013.555,"s":"lo","v":0.178},{"t":2013.565,"s":"lo","v":0.19},{"t":2013.59,"s":"lo","v":0.165},{"t":2013.62,"s":"lo","v":0.125},{"t":2013.65,"s":"lo","v":0.068},{"t":2013.68,"s":"lo","v":0.039},{"t":2013.71,"s":"lo","v":0.007},{"t":2013.74,"s":"lo","v":0.004},{"t":2013.83,"s":"lo","v":0.004},{"t":2013.86,"s":"lo","v":0.002},
    {"t":2014.36,"s":"lo","v":0.002},{"t":2014.42,"s":"lo","v":0.023},{"t":2014.46,"s":"lo","v":0.108},{"t":2014.50,"s":"lo","v":0.19},{"t":2014.535,"s":"lo","v":0.213},{"t":2014.56,"s":"lo","v":0.202},{"t":2014.585,"s":"lo","v":0.194},{"t":2014.61,"s":"lo","v":0.198},{"t":2014.63,"s":"lo","v":0.174},{"t":2014.65,"s":"lo","v":0.165},{"t":2014.68,"s":"lo","v":0.125},{"t":2014.71,"s":"lo","v":0.068},{"t":2014.74,"s":"lo","v":0.01},{"t":2014.77,"s":"lo","v":0.002},
    {"t":2015.36,"s":"lo","v":0.002},{"t":2015.40,"s":"lo","v":0.015},{"t":2015.46,"s":"lo","v":0.06},{"t":2015.51,"s":"lo","v":0.161},{"t":2015.535,"s":"lo","v":0.165},{"t":2015.56,"s":"lo","v":0.137},{"t":2015.61,"s":"lo","v":0.108},{"t":2015.64,"s":"lo","v":0.092},{"t":2015.67,"s":"lo","v":0.077},{"t":2015.70,"s":"lo","v":0.06},{"t":2015.74,"s":"lo","v":0.035},{"t":2015.77,"s":"lo","v":0.007},{"t":2015.80,"s":"lo","v":0.002},
    {"t":2016.33,"s":"lo","v":0.002},{"t":2016.40,"s":"lo","v":0.01},{"t":2016.46,"s":"lo","v":0.108},{"t":2016.51,"s":"lo","v":0.206},{"t":2016.53,"s":"lo","v":0.288},{"t":2016.56,"s":"lo","v":0.255},{"t":2016.59,"s":"lo","v":0.206},{"t":2016.62,"s":"lo","v":0.125},{"t":2016.65,"s":"lo","v":0.092},{"t":2016.68,"s":"lo","v":0.06},{"t":2016.71,"s":"lo","v":0.027},{"t":2016.74,"s":"lo","v":0.031},{"t":2016.77,"s":"lo","v":0.027},{"t":2016.80,"s":"lo","v":0.027},{"t":2016.83,"s":"lo","v":0.011},{"t":2016.86,"s":"lo","v":0.002},
    {"t":2017.30,"s":"lo","v":0.002},{"t":2017.36,"s":"lo","v":0.015},{"t":2017.42,"s":"lo","v":0.06},{"t":2017.50,"s":"lo","v":0.1},{"t":2017.53,"s":"lo","v":0.125},{"t":2017.55,"s":"lo","v":0.182},{"t":2017.575,"s":"lo","v":0.178},{"t":2017.60,"s":"lo","v":0.141},{"t":2017.63,"s":"lo","v":0.092},{"t":2017.67,"s":"lo","v":0.084},{"t":2017.70,"s":"lo","v":0.068},{"t":2017.73,"s":"lo","v":0.055},{"t":2017.75,"s":"lo","v":0.027},{"t":2017.78,"s":"lo","v":0.004},{"t":2017.80,"s":"lo","v":0.002},
    {"t":2018.37,"s":"lo","v":0.002},{"t":2018.43,"s":"lo","v":0.027},{"t":2018.49,"s":"lo","v":0.084},{"t":2018.54,"s":"lo","v":0.141},{"t":2018.57,"s":"lo","v":0.174},{"t":2018.60,"s":"lo","v":0.149},{"t":2018.63,"s":"lo","v":0.072},{"t":2018.67,"s":"lo","v":0.068},{"t":2018.70,"s":"lo","v":0.043},{"t":2018.73,"s":"lo","v":0.007},{"t":2018.76,"s":"lo","v":0.002},
    {"t":2019.23,"s":"lo","v":0.002},{"t":2019.32,"s":"lo","v":0.011},{"t":2019.40,"s":"lo","v":0.027},{"t":2019.48,"s":"lo","v":0.165},{"t":2019.52,"s":"lo","v":0.247},{"t":2019.55,"s":"lo","v":0.304},{"t":2019.56,"s":"lo","v":0.32},{"t":2019.59,"s":"lo","v":0.263},{"t":2019.62,"s":"lo","v":0.19},{"t":2019.65,"s":"lo","v":0.092},{"t":2019.67,"s":"lo","v":0.043},{"t":2019.70,"s":"lo","v":0.051},{"t":2019.75,"s":"lo","v":0.043},{"t":2019.77,"s":"lo","v":0.039},{"t":2019.79,"s":"lo","v":0.007},{"t":2019.82,"s":"lo","v":0.002},
    {"t":2020.33,"s":"lo","v":0.002},{"t":2020.39,"s":"lo","v":0.015},{"t":2020.45,"s":"lo","v":0.084},{"t":2020.51,"s":"lo","v":0.149},{"t":2020.54,"s":"lo","v":0.148},{"t":2020.57,"s":"lo","v":0.145},{"t":2020.61,"s":"lo","v":0.129},{"t":2020.64,"s":"lo","v":0.084},{"t":2020.67,"s":"lo","v":0.027},{"t":2020.70,"s":"lo","v":0.007},{"t":2020.81,"s":"lo","v":0.004},{"t":2020.97,"s":"lo","v":0.002},
    {"t":2013.0,"s":"hi","v":0.002},{"t":2013.36,"s":"hi","v":0.002},{"t":2013.42,"s":"hi","v":0.027},{"t":2013.48,"s":"hi","v":0.068},{"t":2013.52,"s":"hi","v":0.133},{"t":2013.54,"s":"hi","v":0.232},{"t":2013.56,"s":"hi","v":0.214},{"t":2013.59,"s":"hi","v":0.149},{"t":2013.62,"s":"hi","v":0.068},{"t":2013.65,"s":"hi","v":0.01},{"t":2013.68,"s":"hi","v":0.002},
    {"t":2014.37,"s":"hi","v":0.002},{"t":2014.43,"s":"hi","v":0.043},{"t":2014.47,"s":"hi","v":0.125},{"t":2014.51,"s":"hi","v":0.182},{"t":2014.54,"s":"hi","v":0.191},{"t":2014.58,"s":"hi","v":0.186},{"t":2014.60,"s":"hi","v":0.161},{"t":2014.64,"s":"hi","v":0.092},{"t":2014.68,"s":"hi","v":0.019},{"t":2014.73,"s":"hi","v":0.002},
    {"t":2015.38,"s":"hi","v":0.002},{"t":2015.43,"s":"hi","v":0.019},{"t":2015.48,"s":"hi","v":0.084},{"t":2015.51,"s":"hi","v":0.231},{"t":2015.54,"s":"hi","v":0.229},{"t":2015.58,"s":"hi","v":0.19},{"t":2015.62,"s":"hi","v":0.092},{"t":2015.67,"s":"hi","v":0.019},{"t":2015.71,"s":"hi","v":0.002},
    {"t":2016.38,"s":"hi","v":0.002},{"t":2016.43,"s":"hi","v":0.043},{"t":2016.47,"s":"hi","v":0.141},{"t":2016.50,"s":"hi","v":0.247},{"t":2016.52,"s":"hi","v":0.34},{"t":2016.54,"s":"hi","v":0.304},{"t":2016.56,"s":"hi","v":0.296},{"t":2016.59,"s":"hi","v":0.165},{"t":2016.62,"s":"hi","v":0.068},{"t":2016.66,"s":"hi","v":0.019},{"t":2016.71,"s":"hi","v":0.002},
    {"t":2017.38,"s":"hi","v":0.002},{"t":2017.45,"s":"hi","v":0.019},{"t":2017.51,"s":"hi","v":0.084},{"t":2017.56,"s":"hi","v":0.17},{"t":2017.59,"s":"hi","v":0.161},{"t":2017.63,"s":"hi","v":0.06},{"t":2017.67,"s":"hi","v":0.011},{"t":2017.70,"s":"hi","v":0.002},
    {"t":2018.40,"s":"hi","v":0.002},{"t":2018.46,"s":"hi","v":0.035},{"t":2018.51,"s":"hi","v":0.084},{"t":2018.55,"s":"hi","v":0.121},{"t":2018.59,"s":"hi","v":0.084},{"t":2018.64,"s":"hi","v":0.027},{"t":2018.69,"s":"hi","v":0.002},
    {"t":2019.33,"s":"hi","v":0.002},{"t":2019.38,"s":"hi","v":0.011},{"t":2019.44,"s":"hi","v":0.108},{"t":2019.49,"s":"hi","v":0.206},{"t":2019.52,"s":"hi","v":0.28},{"t":2019.55,"s":"hi","v":0.33},{"t":2019.58,"s":"hi","v":0.28},{"t":2019.62,"s":"hi","v":0.141},{"t":2019.65,"s":"hi","v":0.043},{"t":2019.67,"s":"hi","v":0.007},{"t":2019.70,"s":"hi","v":0.002},
    {"t":2020.36,"s":"hi","v":0.002},{"t":2020.43,"s":"hi","v":0.043},{"t":2020.49,"s":"hi","v":0.125},{"t":2020.53,"s":"hi","v":0.182},{"t":2020.56,"s":"hi","v":0.17},{"t":2020.60,"s":"hi","v":0.092},{"t":2020.64,"s":"hi","v":0.011},{"t":2020.67,"s":"hi","v":0.002},{"t":2020.97,"s":"hi","v":0.002}
  ],
  "cum": [
    {"t":2013.0,"s":"lo","v":0.2},{"t":2013.42,"s":"lo","v":0.2},{"t":2013.45,"s":"lo","v":0.6},{"t":2013.50,"s":"lo","v":2.6},{"t":2013.54,"s":"lo","v":5.1},{"t":2013.56,"s":"lo","v":7.1},{"t":2013.59,"s":"lo","v":8.7},{"t":2013.62,"s":"lo","v":9.5},{"t":2013.65,"s":"lo","v":10.3},{"t":2013.74,"s":"lo","v":10.6},{"t":2013.999,"s":"lo","v":10.6},
    {"t":2014.0,"s":"lo","v":0.2},{"t":2014.40,"s":"lo","v":0.2},{"t":2014.43,"s":"lo","v":0.8},{"t":2014.48,"s":"lo","v":3.4},{"t":2014.51,"s":"lo","v":6.7},{"t":2014.55,"s":"lo","v":9.9},{"t":2014.59,"s":"lo","v":12.3},{"t":2014.62,"s":"lo","v":14.1},{"t":2014.66,"s":"lo","v":15.4},{"t":2014.70,"s":"lo","v":16.0},{"t":2014.999,"s":"lo","v":16.1},
    {"t":2015.0,"s":"lo","v":0.2},{"t":2015.43,"s":"lo","v":0.2},{"t":2015.47,"s":"lo","v":1.0},{"t":2015.51,"s":"lo","v":3.0},{"t":2015.54,"s":"lo","v":5.9},{"t":2015.58,"s":"lo","v":7.9},{"t":2015.61,"s":"lo","v":9.1},{"t":2015.65,"s":"lo","v":9.9},{"t":2015.68,"s":"lo","v":10.7},{"t":2015.74,"s":"lo","v":11.0},{"t":2015.999,"s":"lo","v":11.0},
    {"t":2016.0,"s":"lo","v":0.2},{"t":2016.42,"s":"lo","v":0.2},{"t":2016.46,"s":"lo","v":0.6},{"t":2016.49,"s":"lo","v":3.0},{"t":2016.52,"s":"lo","v":8.5},{"t":2016.55,"s":"lo","v":13.0},{"t":2016.58,"s":"lo","v":15.5},{"t":2016.62,"s":"lo","v":16.6},{"t":2016.68,"s":"lo","v":17.3},{"t":2016.75,"s":"lo","v":17.7},{"t":2016.78,"s":"lo","v":18.2},{"t":2016.85,"s":"lo","v":18.4},{"t":2016.999,"s":"lo","v":18.4},
    {"t":2017.0,"s":"lo","v":0.2},{"t":2017.33,"s":"lo","v":0.2},{"t":2017.42,"s":"lo","v":0.7},{"t":2017.48,"s":"lo","v":2.2},{"t":2017.54,"s":"lo","v":4.6},{"t":2017.59,"s":"lo","v":7.9},{"t":2017.63,"s":"lo","v":9.9},{"t":2017.67,"s":"lo","v":11.1},{"t":2017.70,"s":"lo","v":11.4},{"t":2017.73,"s":"lo","v":12.7},{"t":2017.78,"s":"lo","v":13.0},{"t":2017.999,"s":"lo","v":13.1},
    {"t":2018.0,"s":"lo","v":0.2},{"t":2018.40,"s":"lo","v":0.2},{"t":2018.48,"s":"lo","v":1.0},{"t":2018.54,"s":"lo","v":3.4},{"t":2018.58,"s":"lo","v":5.9},{"t":2018.63,"s":"lo","v":8.9},{"t":2018.66,"s":"lo","v":9.3},{"t":2018.70,"s":"lo","v":10.3},{"t":2018.999,"s":"lo","v":10.4},
    {"t":2019.0,"s":"lo","v":0.2},{"t":2019.32,"s":"lo","v":0.3},{"t":2019.43,"s":"lo","v":1.0},{"t":2019.49,"s":"lo","v":5.5},{"t":2019.53,"s":"lo","v":9.5},{"t":2019.58,"s":"lo","v":14.3},{"t":2019.62,"s":"lo","v":16.8},{"t":2019.68,"s":"lo","v":17.8},{"t":2019.71,"s":"lo","v":18.0},{"t":2019.73,"s":"lo","v":19.0},{"t":2019.80,"s":"lo","v":19.2},{"t":2019.999,"s":"lo","v":19.2},
    {"t":2020.0,"s":"lo","v":0.2},{"t":2020.33,"s":"lo","v":0.2},{"t":2020.42,"s":"lo","v":0.8},{"t":2020.48,"s":"lo","v":2.2},{"t":2020.53,"s":"lo","v":5.5},{"t":2020.57,"s":"lo","v":7.9},{"t":2020.61,"s":"lo","v":9.9},{"t":2020.66,"s":"lo","v":10.7},{"t":2020.78,"s":"lo","v":11.0},{"t":2021.0,"s":"lo","v":11.0},
    {"t":2013.0,"s":"hi","v":0.2},{"t":2013.42,"s":"hi","v":0.2},{"t":2013.46,"s":"hi","v":1.4},{"t":2013.50,"s":"hi","v":3.0},{"t":2013.54,"s":"hi","v":6.7},{"t":2013.56,"s":"hi","v":9.1},{"t":2013.59,"s":"hi","v":10.7},{"t":2013.62,"s":"hi","v":11.1},{"t":2013.70,"s":"hi","v":11.2},{"t":2013.999,"s":"hi","v":11.2},
    {"t":2014.0,"s":"hi","v":0.2},{"t":2014.42,"s":"hi","v":0.2},{"t":2014.46,"s":"hi","v":1.4},{"t":2014.51,"s":"hi","v":4.2},{"t":2014.55,"s":"hi","v":7.5},{"t":2014.59,"s":"hi","v":10.1},{"t":2014.64,"s":"hi","v":11.5},{"t":2014.68,"s":"hi","v":11.6},{"t":2014.999,"s":"hi","v":11.6},
    {"t":2015.0,"s":"hi","v":0.2},{"t":2015.44,"s":"hi","v":0.2},{"t":2015.49,"s":"hi","v":2.2},{"t":2015.53,"s":"hi","v":5.9},{"t":2015.56,"s":"hi","v":8.7},{"t":2015.61,"s":"hi","v":9.9},{"t":2015.65,"s":"hi","v":10.1},{"t":2015.999,"s":"hi","v":10.1},
    {"t":2016.0,"s":"hi","v":0.2},{"t":2016.45,"s":"hi","v":0.2},{"t":2016.49,"s":"hi","v":2.0},{"t":2016.52,"s":"hi","v":7.0},{"t":2016.55,"s":"hi","v":12.0},{"t":2016.57,"s":"hi","v":14.3},{"t":2016.60,"s":"hi","v":15.4},{"t":2016.65,"s":"hi","v":15.7},{"t":2016.999,"s":"hi","v":15.8},
    {"t":2017.0,"s":"hi","v":0.2},{"t":2017.40,"s":"hi","v":0.2},{"t":2017.48,"s":"hi","v":1.0},{"t":2017.53,"s":"hi","v":2.0},{"t":2017.57,"s":"hi","v":5.5},{"t":2017.60,"s":"hi","v":7.7},{"t":2017.64,"s":"hi","v":8.2},{"t":2017.75,"s":"hi","v":8.3},{"t":2017.999,"s":"hi","v":8.3},
    {"t":2018.0,"s":"hi","v":0.2},{"t":2018.43,"s":"hi","v":0.2},{"t":2018.49,"s":"hi","v":0.8},{"t":2018.54,"s":"hi","v":3.0},{"t":2018.59,"s":"hi","v":5.1},{"t":2018.62,"s":"hi","v":6.1},{"t":2018.70,"s":"hi","v":6.3},{"t":2018.999,"s":"hi","v":6.3},
    {"t":2019.0,"s":"hi","v":0.2},{"t":2019.35,"s":"hi","v":0.2},{"t":2019.46,"s":"hi","v":1.8},{"t":2019.50,"s":"hi","v":5.9},{"t":2019.55,"s":"hi","v":11.1},{"t":2019.58,"s":"hi","v":15.2},{"t":2019.61,"s":"hi","v":17.6},{"t":2019.65,"s":"hi","v":18.0},{"t":2019.999,"s":"hi","v":18.0},
    {"t":2020.0,"s":"hi","v":0.2},{"t":2020.36,"s":"hi","v":0.2},{"t":2020.45,"s":"hi","v":1.0},{"t":2020.50,"s":"hi","v":2.4},{"t":2020.54,"s":"hi","v":5.9},{"t":2020.59,"s":"hi","v":8.9},{"t":2020.63,"s":"hi","v":9.8},{"t":2020.69,"s":"hi","v":10.0},{"t":2021.0,"s":"hi","v":10.0}
  ]
},
"vconcat": [
  {
    "width": 1146, "height": 168,
    "layer": [
      {"data": {"name": "grid"}, "transform": [{"filter": "datum.k == 'half'"}], "mark": {"type": "rule", "color": "#a8a8a8", "strokeWidth": 1.5, "strokeDash": [7, 4]}, "encoding": {"x": {"field": "t", "type": "quantitative", "scale": {"domain": [2013, 2021], "nice": false, "zero": false}, "axis": {"values": [2013, 2013.5, 2014, 2014.5, 2015, 2015.5, 2016, 2016.5, 2017, 2017.5, 2018, 2018.5, 2019, 2019.5, 2020, 2020.5, 2021], "labels": false, "title": null}}}},
      {"data": {"name": "grid"}, "transform": [{"filter": "datum.k == 'year'"}], "mark": {"type": "rule", "color": "black", "strokeWidth": 2}, "encoding": {"x": {"field": "t", "type": "quantitative"}}},
      {"data": {"name": "term"}, "mark": {"type": "line", "strokeWidth": 2},
       "encoding": {
         "x": {"field": "t", "type": "quantitative", "scale": {"domain": [2013, 2021], "nice": false, "zero": false}},
         "y": {"field": "v", "type": "quantitative", "scale": {"domain": [-1000, 1000], "nice": false}, "axis": {"title": ["Mean terminus", "position (m)"], "values": [-1000, -500, 0, 500, 1000], "format": "d", "titlePadding": 9}},
         "color": {"field": "s", "type": "nominal", "scale": {"domain": ["lo", "hi"], "range": ["#0000ff", "#008000"]}, "legend": {"orient": "none", "legendX": 29, "legendY": 134, "direction": "horizontal", "title": null, "labelExpr": "datum.label == 'lo' ? '<69 ᵒN' : '>69 ᵒN'"}}
       }},
      {"data": {"name": "zero"}, "mark": {"type": "rule", "color": "black", "strokeWidth": 2}, "encoding": {"y": {"field": "y", "type": "quantitative"}}},
      {"data": {"name": "letters"}, "transform": [{"filter": "datum.p == 'a'"}], "mark": {"type": "text", "fontSize": 34, "align": "left", "baseline": "alphabetic", "font": "DejaVu Sans", "color": "black"},
       "encoding": {"x": {"datum": 2013.165, "type": "quantitative"}, "y": {"datum": 595, "type": "quantitative"}, "text": {"field": "label"}}}
    ]
  },
  {
    "width": 1146, "height": 168,
    "layer": [
      {"data": {"name": "grid"}, "transform": [{"filter": "datum.k == 'half'"}], "mark": {"type": "rule", "color": "#a8a8a8", "strokeWidth": 1.5, "strokeDash": [7, 4]}, "encoding": {"x": {"field": "t", "type": "quantitative", "scale": {"domain": [2013, 2021], "nice": false, "zero": false}, "axis": {"values": [2013, 2013.5, 2014, 2014.5, 2015, 2015.5, 2016, 2016.5, 2017, 2017.5, 2018, 2018.5, 2019, 2019.5, 2020, 2020.5, 2021], "labels": false, "title": null}}}},
      {"data": {"name": "grid"}, "transform": [{"filter": "datum.k == 'year'"}], "mark": {"type": "rule", "color": "black", "strokeWidth": 2}, "encoding": {"x": {"field": "t", "type": "quantitative"}}},
      {"data": {"name": "temp"}, "mark": {"type": "line", "strokeWidth": 2, "invalid": "break-paths-filter-domains"},
       "encoding": {
         "x": {"field": "t", "type": "quantitative", "scale": {"domain": [2013, 2021], "nice": false, "zero": false}},
         "y": {"field": "v", "type": "quantitative", "scale": {"domain": [-34.3, 10], "nice": false, "zero": false}, "axis": {"title": ["Surface air", "temperature (ᵒC)"], "values": [-30, -20, -10, 0, 10], "titlePadding": 16.5}},
         "color": {"field": "s", "type": "nominal", "scale": {"domain": ["A", "M", "D"], "range": ["#ffd700", "#ff8000", "#f01010"]}, "legend": {"orient": "none", "legendX": 29, "legendY": 136, "direction": "horizontal", "title": null, "labelExpr": "datum.label == 'A' ? 'Aputiteeq' : datum.label == 'M' ? 'Mitt. Nerlerit Inaat' : 'Daneborg'"}}
       }},
      {"data": {"name": "letters"}, "transform": [{"filter": "datum.p == 'b'"}], "mark": {"type": "text", "fontSize": 34, "align": "left", "baseline": "alphabetic", "font": "DejaVu Sans", "color": "black"},
       "encoding": {"x": {"datum": 2013.165, "type": "quantitative"}, "y": {"datum": 1.0, "type": "quantitative"}, "text": {"field": "label"}}}
    ]
  },
  {
    "width": 1146, "height": 168,
    "layer": [
      {"data": {"name": "grid"}, "transform": [{"filter": "datum.k == 'half'"}], "mark": {"type": "rule", "color": "#a8a8a8", "strokeWidth": 1.5, "strokeDash": [7, 4]}, "encoding": {"x": {"field": "t", "type": "quantitative", "scale": {"domain": [2013, 2021], "nice": false, "zero": false}, "axis": {"values": [2013, 2013.5, 2014, 2014.5, 2015, 2015.5, 2016, 2016.5, 2017, 2017.5, 2018, 2018.5, 2019, 2019.5, 2020, 2020.5, 2021], "labels": false, "title": null}}}},
      {"data": {"name": "grid"}, "transform": [{"filter": "datum.k == 'year'"}], "mark": {"type": "rule", "color": "black", "strokeWidth": 2}, "encoding": {"x": {"field": "t", "type": "quantitative"}}},
      {"data": {"name": "anom"}, "mark": {"type": "rect", "filled": false, "strokeWidth": 2},
       "encoding": {
         "x": {"field": "t0", "type": "quantitative", "scale": {"domain": [2013, 2021], "nice": false, "zero": false}},
         "x2": {"field": "t1"},
         "y": {"field": "v", "type": "quantitative", "scale": {"domain": [-10, 10], "nice": false}, "axis": {"title": ["Surface air", "temperature", "anomaly (ᵒC)"], "values": [-10, -5, 0, 5, 10], "titlePadding": 13}},
         "y2": {"datum": 0},
         "color": {"field": "s", "type": "nominal", "scale": {"domain": ["A", "M", "D"], "range": ["#ffd700", "#ff8000", "#f01010"]}, "legend": null}
       }},
      {"data": {"name": "zero"}, "mark": {"type": "rule", "color": "black", "strokeWidth": 2}, "encoding": {"y": {"field": "y", "type": "quantitative"}}},
      {"data": {"name": "letters"}, "transform": [{"filter": "datum.p == 'c'"}], "mark": {"type": "text", "fontSize": 34, "align": "left", "baseline": "alphabetic", "font": "DejaVu Sans", "color": "black"},
       "encoding": {"x": {"datum": 2013.165, "type": "quantitative"}, "y": {"datum": 5.85, "type": "quantitative"}, "text": {"field": "label"}}},
      {"data": {"name": "letters"}, "transform": [{"filter": "datum.p == 'base'"}], "mark": {"type": "text", "fontSize": 17.5, "align": "left", "baseline": "alphabetic", "font": "DejaVu Sans", "color": "black"},
       "encoding": {"x": {"datum": 2013.16, "type": "quantitative"}, "y": {"datum": -8.1, "type": "quantitative"}, "text": {"field": "label"}}}
    ]
  },
  {
    "width": 1146, "height": 168,
    "layer": [
      {"data": {"name": "grid"}, "transform": [{"filter": "datum.k == 'half'"}], "mark": {"type": "rule", "color": "#a8a8a8", "strokeWidth": 1.5, "strokeDash": [7, 4]}, "encoding": {"x": {"field": "t", "type": "quantitative", "scale": {"domain": [2013, 2021], "nice": false, "zero": false}, "axis": {"values": [2013, 2013.5, 2014, 2014.5, 2015, 2015.5, 2016, 2016.5, 2017, 2017.5, 2018, 2018.5, 2019, 2019.5, 2020, 2020.5, 2021], "labels": false, "title": null}}}},
      {"data": {"name": "grid"}, "transform": [{"filter": "datum.k == 'year'"}], "mark": {"type": "rule", "color": "black", "strokeWidth": 2}, "encoding": {"x": {"field": "t", "type": "quantitative"}}},
      {"data": {"name": "runoff"}, "mark": {"type": "line", "strokeWidth": 2},
       "encoding": {
         "x": {"field": "t", "type": "quantitative", "scale": {"domain": [2013, 2021], "nice": false, "zero": false}},
         "y": {"field": "v", "type": "quantitative", "scale": {"domain": [-0.007, 0.4], "nice": false, "zero": false}, "axis": {"title": "Runoff (Gt d⁻¹)", "values": [0, 0.1, 0.2, 0.3, 0.4], "format": ".1f", "titlePadding": 27}},
         "color": {"field": "s", "type": "nominal", "scale": {"domain": ["lo", "hi"], "range": ["#000080", "#128a8a"]}, "legend": {"orient": "none", "legendX": 63, "legendY": 8, "direction": "horizontal", "title": null, "labelExpr": "datum.label == 'lo' ? '<69 ᵒN' : '>69 ᵒN'"}}
       }},
      {"data": {"name": "letters"}, "transform": [{"filter": "datum.p == 'd'"}], "mark": {"type": "text", "fontSize": 34, "align": "left", "baseline": "alphabetic", "font": "DejaVu Sans", "color": "black"},
       "encoding": {"x": {"datum": 2013.165, "type": "quantitative"}, "y": {"datum": 0.315, "type": "quantitative"}, "text": {"field": "label"}}}
    ]
  },
  {
    "width": 1146, "height": 168,
    "layer": [
      {"data": {"name": "grid"}, "transform": [{"filter": "datum.k == 'half'"}], "mark": {"type": "rule", "color": "#a8a8a8", "strokeWidth": 1.5, "strokeDash": [7, 4]}, "encoding": {"x": {"field": "t", "type": "quantitative", "scale": {"domain": [2013, 2021], "nice": false, "zero": false}, "axis": {"values": [2013, 2013.5, 2014, 2014.5, 2015, 2015.5, 2016, 2016.5, 2017, 2017.5, 2018, 2018.5, 2019, 2019.5, 2020, 2020.5, 2021], "title": "Year", "labelExpr": "datum.value % 1 === 0 ? format(datum.value, 'd') : ''"}}}},
      {"data": {"name": "grid"}, "transform": [{"filter": "datum.k == 'year'"}], "mark": {"type": "rule", "color": "black", "strokeWidth": 2}, "encoding": {"x": {"field": "t", "type": "quantitative"}}},
      {"data": {"name": "cum"}, "mark": {"type": "line", "strokeWidth": 2},
       "encoding": {
         "x": {"field": "t", "type": "quantitative", "scale": {"domain": [2013, 2021], "nice": false, "zero": false}},
         "y": {"field": "v", "type": "quantitative", "scale": {"domain": [-0.3, 20], "nice": false, "zero": false}, "axis": {"title": ["Cummulative", "Runoff (Gt)"], "values": [0, 5, 10, 15, 20], "titlePadding": 35}},
         "color": {"field": "s", "type": "nominal", "scale": {"domain": ["lo", "hi"], "range": ["#000080", "#128a8a"]}, "legend": null}
       }},
      {"data": {"name": "letters"}, "transform": [{"filter": "datum.p == 'e'"}], "mark": {"type": "text", "fontSize": 34, "align": "left", "baseline": "alphabetic", "font": "DejaVu Sans", "color": "black"},
       "encoding": {"x": {"datum": 2013.165, "type": "quantitative"}, "y": {"datum": 15.8, "type": "quantitative"}, "text": {"field": "label"}}}
    ]
  }
]
}
